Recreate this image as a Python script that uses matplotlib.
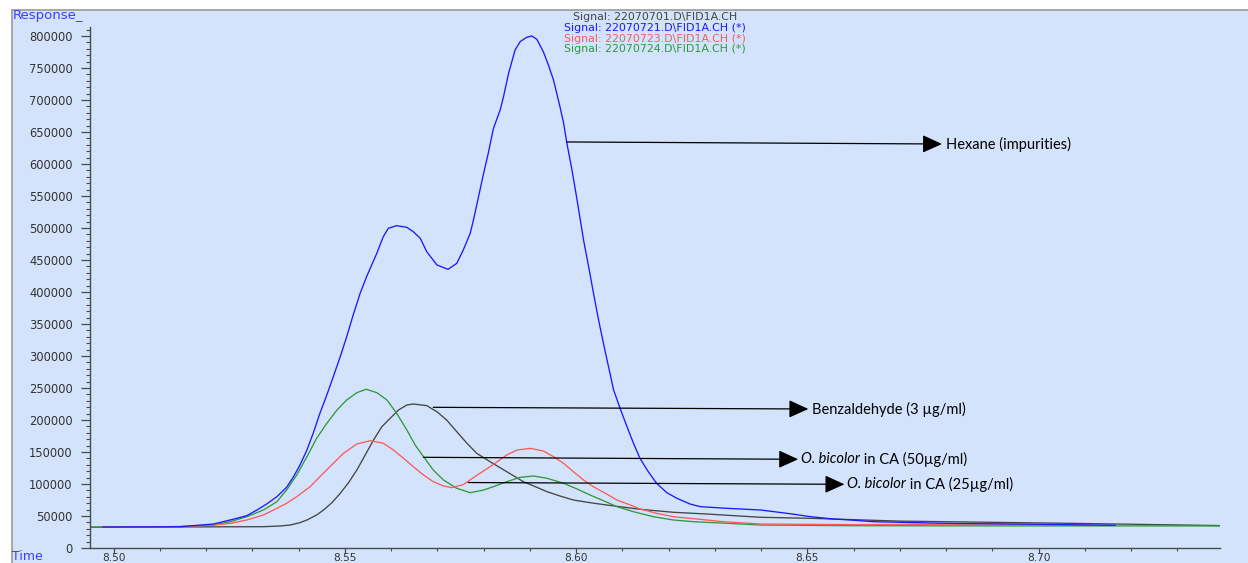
import numpy as np
import matplotlib
matplotlib.use("Agg")
import matplotlib.pyplot as plt
from matplotlib.patches import Rectangle
from matplotlib.lines import Line2D
from matplotlib.ticker import MultipleLocator

# --- traces (time min, response) ---------------------------------------------
blue_t = [8.4977, 8.5080, 8.5144, 8.5216, 8.5252, 8.5288, 8.5310, 8.5331, 8.5353,
          8.5374, 8.5389, 8.5403, 8.5418, 8.5432, 8.5446, 8.5461, 8.5475, 8.5490,
          8.5504, 8.5518, 8.5533, 8.5547, 8.5569, 8.5583, 8.5594, 8.5612, 8.5634,
          8.5648, 8.5663, 8.5677, 8.5699, 8.5723, 8.5742, 8.5756, 8.5771, 8.5778,
          8.5789, 8.5800, 8.5810, 8.5821, 8.5836, 8.5843, 8.5854, 8.5868, 8.5879,
          8.5893, 8.5904, 8.5915, 8.5929, 8.5940, 8.5951, 8.5958, 8.5965, 8.5973,
          8.5980, 8.5991, 8.6002, 8.6016, 8.6030, 8.6037, 8.6048, 8.6059, 8.6070,
          8.6081, 8.6095, 8.6110, 8.6124, 8.6138, 8.6156, 8.6174, 8.6196, 8.6218,
          8.6246, 8.6268, 8.6326, 8.6398, 8.6456, 8.6506, 8.6556, 8.6592, 8.6642,
          8.6800, 8.7000, 8.7165]
blue_r = [32800, 33000, 33300, 37500, 43750, 50500, 59400, 68750, 80200,
          94800, 111400, 129700, 153100, 180200, 210400, 239100, 267700, 298900,
          330200, 364100, 397900, 423900, 460400, 486400, 499500, 503600, 501000,
          494200, 483900, 463000, 442200, 435400, 444800, 465600, 491700, 512500,
          548900, 585400, 616700, 655000, 685000, 705200, 741700, 778100, 791100,
          797900, 800000, 794800, 775500, 754700, 731300, 710500, 689500, 663600,
          632300, 590600, 543800, 481300, 428000, 400000, 358000, 319800, 283300,
          246900, 218200, 189500, 163600, 140100, 119200, 101100, 86400, 77600,
          68800, 64600, 62000, 59400, 54200, 49000, 45300, 43800, 41100,
          38500, 37000, 35500]

red_t = [8.4977, 8.5144, 8.5216, 8.5252, 8.5288, 8.5324, 8.5346, 8.5374, 8.5396,
         8.5425, 8.5446, 8.5475, 8.5497, 8.5526, 8.5555, 8.5583, 8.5605, 8.5627,
         8.5648, 8.5670, 8.5691, 8.5713, 8.5731, 8.5756, 8.5778, 8.5800, 8.5821,
         8.5850, 8.5872, 8.5901, 8.5929, 8.5951, 8.5973, 8.5994, 8.6016, 8.6037,
         8.6066, 8.6088, 8.6117, 8.6138, 8.6174, 8.6210, 8.6268, 8.6318, 8.6398,
         8.6600, 8.6900, 8.7111]
red_r = [32500, 33500, 35900, 38500, 43750, 51600, 59400, 69800, 80200,
         95800, 111400, 132300, 148000, 162500, 167700, 163600, 153100, 140100,
         127000, 114100, 103600, 96900, 94300, 99000, 110000, 120500, 130500,
         145300, 153100, 155700, 151600, 142700, 132300, 119200, 106300, 95800,
         84400, 75000, 67200, 61000, 54200, 48900, 44800, 41100, 37500,
         36500, 37500, 36000]

green_t = [8.4949, 8.5144, 8.5216, 8.5252, 8.5288, 8.5324, 8.5353, 8.5374, 8.5396,
           8.5418, 8.5439, 8.5461, 8.5483, 8.5504, 8.5526, 8.5546, 8.5569, 8.5591,
           8.5612, 8.5634, 8.5652, 8.5670, 8.5691, 8.5713, 8.5742, 8.5771, 8.5800,
           8.5821, 8.5850, 8.5879, 8.5908, 8.5937, 8.5973, 8.6002, 8.6030, 8.6059,
           8.6088, 8.6124, 8.6167, 8.6210, 8.6254, 8.6326, 8.6398, 8.6600, 8.7000,
           8.7392]
green_r = [32500, 33500, 35900, 41100, 48900, 59400, 72300, 90600, 114100,
           142700, 171400, 194800, 215600, 231300, 242700, 248000, 242700, 231300,
           210400, 184400, 160900, 142700, 121900, 106300, 93300, 86400, 90600,
           95800, 103600, 110400, 112500, 108900, 101100, 92200, 82800, 73900,
           64600, 56700, 48900, 43750, 41100, 38600, 35900, 34800, 34500,
           34500]

black_t = [8.4949, 8.5324, 8.5360, 8.5382, 8.5403, 8.5418, 8.5439, 8.5454, 8.5472,
           8.5490, 8.5508, 8.5526, 8.5544, 8.5562, 8.5580, 8.5598, 8.5616, 8.5634,
           8.5648, 8.5677, 8.5699, 8.5720, 8.5742, 8.5764, 8.5785, 8.5814, 8.5850,
           8.5886, 8.5915, 8.5937, 8.5965, 8.5994, 8.6030, 8.6066, 8.6138, 8.6210,
           8.6283, 8.6398, 8.6506, 8.6700, 8.7075, 8.7392]
black_r = [32500, 33300, 34400, 35900, 39600, 43750, 51600, 59400, 70800,
           85400, 102100, 121900, 145300, 168800, 189500, 202700, 215600, 223400,
           225000, 222400, 213000, 200000, 181700, 163600, 148000, 134800, 119200,
           103600, 94800, 88000, 81250, 75000, 70800, 67200, 60500, 55800,
           53100, 48000, 46400, 42000, 38500, 35000]

signals = ["Signal: 22070701.D\\FID1A.CH", "Signal: 22070721.D\\FID1A.CH (*)",
           "Signal: 22070723.D\\FID1A.CH (*)", "Signal: 22070724.D\\FID1A.CH (*)"]

# annotation arrows: (start time, start resp, tip time, tip resp, italic part, rest)
notes = [(8.5980, 634400, 8.6791, 631200, "", "Hexane (impurities)"),
         (8.5691, 219800, 8.6502, 217200, "", "Benzaldehyde (3 \u00b5g/ml)"),
         (8.5670, 141700, 8.6480, 138600, "O. bicolor", " in CA (50\u00b5g/ml)"),
         (8.5767, 102300, 8.6580, 99500, "O. bicolor", " in CA (25\u00b5g/ml)")]

BG = "#d3e3fb"
C_BLACK, C_BLUE, C_RED, C_GREEN = "#454545", "#1a1aff", "#ff5a5a", "#2f9a3a"
AXC = "#4a4a4a"
LBL = "#3c3cff"

fig = plt.figure(figsize=(12.48, 5.63), dpi=100)
fig.patch.set_facecolor("white")
W, H = 1248, 563
fig.patches.append(Rectangle((12 / W, 0), 1 - 12 / W, 1 - 10 / H,
                             transform=fig.transFigure, facecolor=BG,
                             edgecolor="none", zorder=-5))
fig.lines.append(Line2D([12 / W, 1], [1 - 10 / H] * 2, transform=fig.transFigure,
                        color="#9a9a9a", lw=1.2, zorder=-4))
fig.lines.append(Line2D([12 / W] * 2, [0, 1 - 10 / H], transform=fig.transFigure,
                        color="#9a9a9a", lw=1.2, zorder=-4))

ax = fig.add_axes([90 / W, 1 - 548 / H, (1220 - 90) / W, (548 - 27) / H])
ax.set_facecolor("none")
ax.set_zorder(1)
ax.set_xlim(8.4949, 8.7392)
ax.set_ylim(0, 814000)

lw = 0.95
ax.plot(black_t, black_r, color=C_BLACK, lw=lw)
ax.plot(green_t, green_r, color=C_GREEN, lw=lw)
ax.plot(red_t, red_r, color=C_RED, lw=lw)
ax.plot(blue_t, blue_r, color=C_BLUE, lw=lw)

for s in ["top", "right"]:
    ax.spines[s].set_visible(False)
for s in ["left", "bottom"]:
    ax.spines[s].set_color(AXC)
    ax.spines[s].set_linewidth(1.0)

ax.xaxis.set_major_locator(MultipleLocator(0.05))
ax.xaxis.set_minor_locator(MultipleLocator(0.01))
ax.yaxis.set_major_locator(MultipleLocator(50000))
ax.yaxis.set_minor_locator(MultipleLocator(10000))
ax.xaxis.set_major_formatter(lambda v, p: f"{v:.2f}")
ax.yaxis.set_major_formatter(lambda v, p: f"{v:.0f}")
ax.tick_params(axis="y", which="major", length=6.5, width=0.9, color=AXC,
               labelsize=8.3, labelcolor="#333333", pad=6)
ax.tick_params(axis="y", which="minor", length=3.2, width=0.8, color=AXC)
ax.tick_params(axis="x", which="major", length=3.5, width=0.9, color=AXC,
               labelsize=7.6, labelcolor="#333333", pad=0)
ax.tick_params(axis="x", which="minor", length=2.5, width=0.8, color=AXC)

fig.text(13 / W, 1 - 16 / H, "Response_", color=LBL, fontsize=9.5,
         ha="left", va="center")
fig.text(12 / W, 1 - 556 / H, "Time", color=LBL, fontsize=9,
         ha="left", va="center")

for i, (txt, col) in enumerate(zip(signals, [C_BLACK, C_BLUE, C_RED, C_GREEN])):
    fig.text(655 / W, 1 - (17.5 + 10.6 * i) / H, txt, color=col, fontsize=7.9,
             ha="center", va="center")

afont = "Lato"
for t0, r0, t1, r1, ital, rest in notes:
    ax.annotate("", xy=(t1, r1), xytext=(t0, r0),
                arrowprops=dict(arrowstyle="-|>,head_length=1.1,head_width=0.5",
                                mutation_scale=11, color="black", lw=0.9,
                                shrinkA=0, shrinkB=0))
    if ital:
        t = ax.annotate(ital, xy=(t1, r1), xytext=(3, 0), textcoords="offset pixels",
                        fontsize=10.5, family=afont, style="italic",
                        ha="left", va="center")
        ax.annotate(rest, xy=(1, 0.5), xycoords=t, fontsize=10.5, family=afont,
                    ha="left", va="center")
    else:
        ax.annotate(rest, xy=(t1, r1), xytext=(4, 0), textcoords="offset pixels",
                    fontsize=10.5, family=afont, ha="left", va="center")

fig.savefig("out.png", dpi=100)
